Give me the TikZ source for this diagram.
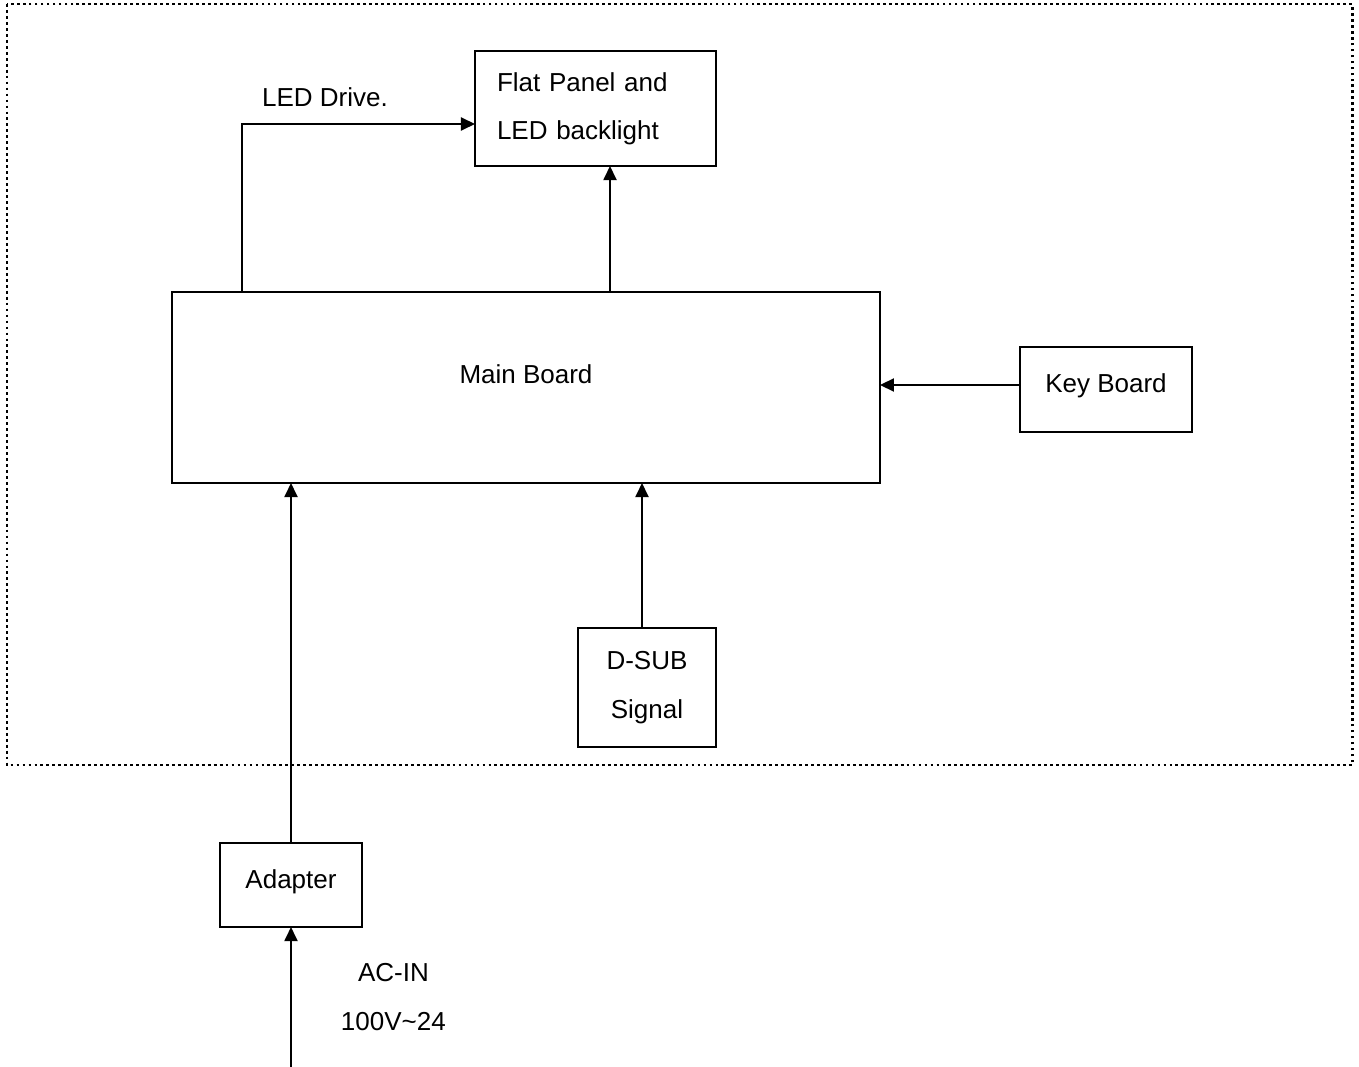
\documentclass[tikz,border=0pt]{standalone}
\usepackage{fontspec}
\setmainfont{Liberation Sans}
\usetikzlibrary{arrows.meta}
\begin{document}
\begin{tikzpicture}[x=0.02cm,y=-0.02cm,inner sep=0pt,outer sep=0pt,
>={Triangle[length=8pt,width=7.4pt]},
font=\fontsize{14.8}{27.5}\selectfont,
blk/.style={draw,rectangle,line width=1.1pt},
link/.style={->,line width=1.1pt}]
\useasboundingbox (0,0) rectangle (1359,1067);
\draw[line width=1.7pt,dash pattern=on 1.6pt off 1.8pt] (7,4) rectangle (1352,765);
\node[blk,align=left,inner xsep=0.44cm,text width=3.94cm,minimum height=2.3cm] (Panel) at (595.5,108.5) {Flat Panel and\\LED backlight};
\node[blk,minimum width=14.16cm,minimum height=3.82cm,text height=0.4cm,text depth=0.54cm] (Main) at (526,387.5) {Main Board};
\node[blk,minimum width=3.44cm,minimum height=1.7cm,text height=0.4cm,text depth=0.26cm] (Key) at (1106,389.5) {Key Board};
\node[blk,align=center,minimum width=2.76cm,minimum height=2.38cm] (DSub) at (647,687.5) {D-SUB\\Signal};
\node[blk,minimum width=2.84cm,minimum height=1.68cm,text height=0.4cm,text depth=0.28cm] (Adapt) at (291,885) {Adapter};
\coordinate (AC) at (291,1067);
\draw[link] (Main.north -| 242,0) |- (Panel.west |- 0,124) node[pos=0.678,above=0.34cm] {LED Drive.};
\draw[link] (Main.north -| 610,0) -- (Panel.south -| 610,0);
\draw[link] (Key.west |- 0,385) -- (Main.east |- 0,385);
\draw[link] (DSub.north -| 642,0) -- (Main.south -| 642,0);
\draw[link] (Adapt.north) -- (Adapt.north |- Main.south);
\draw[link] (AC) -- (Adapt.south) node[pos=0.5,right=1.0cm,align=center] {AC-IN\\100V\textasciitilde24};
\end{tikzpicture}
\end{document}
